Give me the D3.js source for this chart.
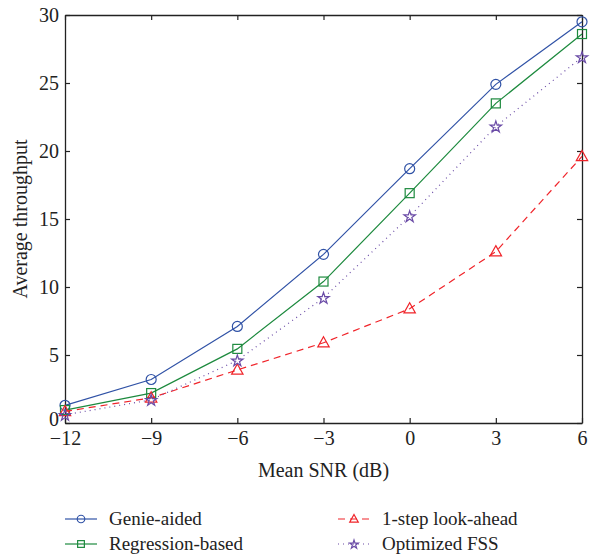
<!DOCTYPE html>
<html>
<head>
<meta charset="utf-8">
<script src="https://cdn.jsdelivr.net/npm/d3@7"></script>
<style>
  body { margin: 0; background: #fff; }
  svg text { font-family: "Liberation Serif", "DejaVu Serif", serif; }
</style>
</head>
<body>
<div id="chart"></div>
<script>
// chart values
const snr = [-12, -9, -6, -3, 0, 3, 6];
const genieAided = [1.3, 3.2, 7.1, 12.4, 18.7, 24.9, 29.5];
const regressionBased = [0.95, 2.2, 5.45, 10.4, 16.9, 23.5, 28.6];
const oneStep = [0.85, 1.85, 3.9, 5.9, 8.4, 12.6, 19.6];
const optimizedFSS = [0.6, 1.7, 4.6, 9.2, 15.2, 21.8, 26.9];
const xTicks = [-12, -9, -6, -3, 0, 3, 6];
const yTicks = [0, 5, 10, 15, 20, 25, 30];

const series = [
    {name: "Genie-aided", values: genieAided, color: "#3052a6", dash: null, marker: "circle"},
    {name: "Regression-based", values: regressionBased, color: "#1d8a3e", dash: null, marker: "square"},
    {name: "1-step look-ahead", values: oneStep, color: "#f0242a", dash: "7,5", marker: "triangle"},
    {name: "Optimized FSS", values: optimizedFSS, color: "#6a4ba6", dash: "1,4", marker: "star"}
];

const svgWidth = 590, svgHeight = 556;
const margin = {top: 15, right: 8, bottom: 133, left: 65};

const svg = d3.select("#chart").append("svg")
    .attr("width", svgWidth)
    .attr("height", svgHeight);

const x = d3.scaleLinear()
    .domain([-12, 6])
    .range([margin.left, svgWidth - margin.right]);

const y = d3.scaleLinear()
    .domain([0, 30])
    .range([svgHeight - margin.bottom, margin.top]);

// axes, MATLAB style: inward ticks on all sides
const tickLen = 5;
svg.append("g")
    .attr("transform", `translate(0,${y(0)})`)
    .call(d3.axisBottom(x).tickValues(xTicks).tickSize(-tickLen).tickPadding(8).tickSizeOuter(0))
    .call(g => g.selectAll("text").style("font-size", "20px").attr("fill", "#222"));
svg.append("g")
    .attr("transform", `translate(0,${y(30)})`)
    .call(d3.axisTop(x).tickValues(xTicks).tickSize(-tickLen).tickFormat("").tickSizeOuter(0));
svg.append("g")
    .attr("transform", `translate(${x(-12)},0)`)
    .call(d3.axisLeft(y).tickValues(yTicks).tickSize(-tickLen).tickPadding(6).tickSizeOuter(0))
    .call(g => g.selectAll("text").style("font-size", "20px").attr("fill", "#222"))
    .call(g => g.selectAll(".tick").filter(d => d === 0).select("text").attr("dy", "0.1em"));
svg.append("g")
    .attr("transform", `translate(${x(6)},0)`)
    .call(d3.axisRight(y).tickValues(yTicks).tickSize(-tickLen).tickFormat("").tickSizeOuter(0));

svg.selectAll(".domain").attr("stroke", "#222").attr("stroke-width", 1.3);
svg.selectAll(".tick line").attr("stroke", "#222").attr("stroke-width", 1.2);

// axis titles
svg.append("text")
    .attr("x", (x(-12) + x(6)) / 2)
    .attr("y", 477)
    .attr("text-anchor", "middle")
    .style("font-size", "20px")
    .attr("fill", "#222")
    .text("Mean SNR (dB)");

svg.append("text")
    .attr("transform", `translate(27,${(y(0) + y(30)) / 2}) rotate(-90)`)
    .attr("text-anchor", "middle")
    .style("font-size", "20px")
    .attr("fill", "#222")
    .text("Average throughput");

function drawMarker(g, type, cx, cy, color, scale) {
    const s = scale || 1;
    if (type === "circle") {
        g.append("circle").attr("cx", cx).attr("cy", cy).attr("r", 5 * s)
            .attr("fill", "none").attr("stroke", color).attr("stroke-width", 1.2);
    } else if (type === "square") {
        g.append("rect").attr("x", cx - 4.5 * s).attr("y", cy - 4.5 * s)
            .attr("width", 9 * s).attr("height", 9 * s)
            .attr("fill", "none").attr("stroke", color).attr("stroke-width", 1.2);
    } else if (type === "triangle") {
        const r = 6 * s;
        g.append("path")
            .attr("d", `M${cx},${cy - r}L${cx + r * 0.95},${cy + r * 0.7}L${cx - r * 0.95},${cy + r * 0.7}Z`)
            .attr("fill", "none").attr("stroke", color).attr("stroke-width", 1.2);
    } else if (type === "star") {
        g.append("path")
            .attr("d", d3.symbol(d3.symbolStar, 40 * s * s)())
            .attr("transform", `translate(${cx},${cy + 0.5})`)
            .attr("fill", "none").attr("stroke", color).attr("stroke-width", 1.2);
    }
}

const line = d3.line()
    .x((d, i) => x(snr[i]))
    .y(d => y(d));

// draw series: lines then markers
series.forEach(s => {
    svg.append("path")
        .datum(s.values)
        .attr("fill", "none")
        .attr("stroke", s.color)
        .attr("stroke-width", 1.2)
        .attr("stroke-dasharray", s.dash)
        .attr("d", line);
    const g = svg.append("g");
    s.values.forEach((v, i) => drawMarker(g, s.marker, x(snr[i]), y(v), s.color));
});

// legend
const legendPos = [
    {lx: 65, ly: 519}, {lx: 65, ly: 544},
    {lx: 338, ly: 519}, {lx: 338, ly: 544}
];
series.forEach((s, i) => {
    const p = legendPos[i];
    const g = svg.append("g");
    g.append("line")
        .attr("x1", p.lx).attr("x2", p.lx + 32)
        .attr("y1", p.ly).attr("y2", p.ly)
        .attr("stroke", s.color).attr("stroke-width", 1.2)
        .attr("stroke-dasharray", s.dash);
    drawMarker(g, s.marker, p.lx + 16, p.ly, s.color, 0.75);
    g.append("text")
        .attr("x", p.lx + 44)
        .attr("y", p.ly + 6)
        .style("font-size", "19px")
        .attr("fill", "#222")
        .text(s.name);
});
</script>
</body>
</html>
